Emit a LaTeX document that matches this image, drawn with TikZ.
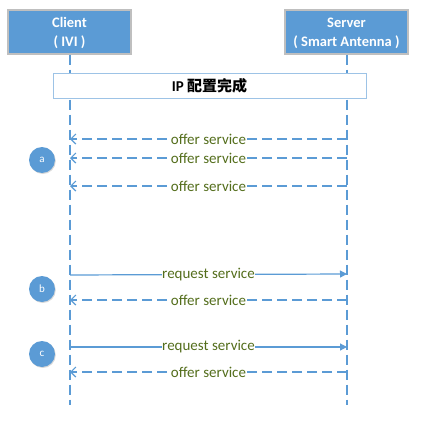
\documentclass[tikz,border=0pt]{standalone}
\usepackage{fontspec}
\setmainfont{Carlito}
\newfontfamily\cjk{Noto Sans CJK SC}
\usetikzlibrary{arrows.meta,shadows}
\definecolor{mblue}{HTML}{5B9BD5}
\definecolor{lblue}{HTML}{9DC3E6}
\definecolor{olive}{RGB}{84,110,28}
\tikzset{
  actor/.style={draw=black!25,line width=1.2pt,fill=mblue,minimum width=123pt,minimum height=44pt,inner sep=0pt},
  actortext/.style={text=white,font=\bfseries\fontsize{14.5}{19}\selectfont,align=center,inner sep=0pt},
  life/.style={draw=mblue,line width=1.3pt,dash pattern=on 10pt off 5pt},
  reply/.style={draw=mblue,line width=1.2pt,dash pattern=on 10pt off 5pt,-{Straight Barb[length=5pt,width=10pt,line width=1.2pt]}},
  req/.style={draw=mblue,line width=1.2pt,-{Triangle[length=7pt,width=7pt]}},
  msg/.style={fill=white,text=olive,font=\fontsize{15}{16}\selectfont,inner sep=0.5pt},
  badge/.style={circle,fill=mblue,text=white,minimum size=26pt,inner sep=0pt,font=\fontsize{11}{13}\selectfont,drop shadow={shadow xshift=0.8pt,shadow yshift=-1pt,opacity=0.3}},
}
\begin{document}
\begin{tikzpicture}[x=1pt,y=-1pt]
\useasboundingbox (0,0) rectangle (421,428);
\node[actor] (client) at (69.5,32) {};
\node[actor] (server) at (346.5,32) {};
\node[actortext] (clientlbl) at (69.5,33.5) {Client\\( IVI )};
\node[actortext] (serverlbl) at (346.5,33.5) {Server\\( Smart Antenna )};
\coordinate (cend) at (70,405);
\coordinate (send) at (347,405);
\draw[life] (client.south -| cend) -- (cend);
\draw[life] (server.south -| send) -- (send);
\node[draw=lblue,line width=1pt,fill=white,minimum width=313pt,minimum height=25pt,font=\bfseries\fontsize{15}{16}\selectfont] (ip) at (209.5,85.5) {IP {\cjk\bfseries 配置完成}};
% a
\coordinate (s1) at (347,139); \coordinate (c1) at (70,139);
\coordinate (s2) at (347,158); \coordinate (c2) at (70,158);
\coordinate (s3) at (347,186); \coordinate (c3) at (70,186);
\draw[reply] (s1) -- node[msg] (m1) {offer service} (c1);
\draw[reply] (s2) -- node[msg] (m2) {offer service} (c2);
\draw[reply] (s3) -- node[msg] (m3) {offer service} (c3);
\node[badge] (a) at (42,160) {a};
% b
\coordinate (c4) at (70,275); \coordinate (s4) at (347,274);
\coordinate (s5) at (347,300); \coordinate (c5) at (70,300);
\draw[req] (c4) -- node[msg] (m4) {request service} (s4);
\draw[reply] (s5) -- node[msg] (m5) {offer service} (c5);
\node[badge] (b) at (42,289) {b};
% c
\coordinate (c6) at (70,347); \coordinate (s6) at (347,347);
\coordinate (s7) at (347,372); \coordinate (c7) at (70,372);
\draw[req] (c6) -- node[msg] (m6) {request service} (s6);
\draw[reply] (s7) -- node[msg] (m7) {offer service} (c7);
\node[badge] (c) at (42,354) {c};
\end{tikzpicture}
\end{document}
